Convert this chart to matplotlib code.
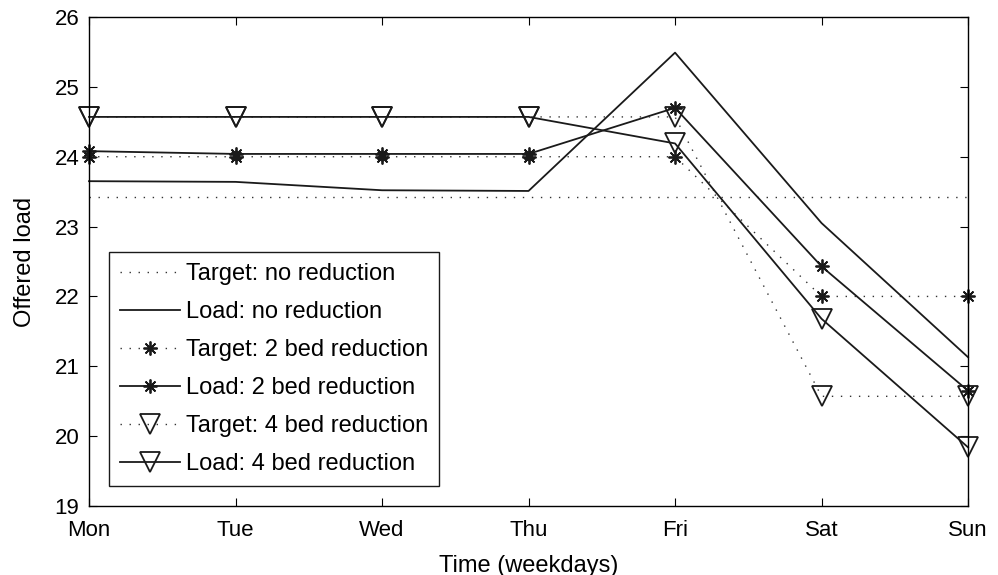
import matplotlib
matplotlib.use("Agg")
import matplotlib.pyplot as plt

days = ["Mon", "Tue", "Wed", "Thu", "Fri", "Sat", "Sun"]
target_none = [23.43, 23.43, 23.43, 23.43, 23.43, 23.43, 23.43]
load_none = [23.65, 23.64, 23.52, 23.51, 25.49, 23.05, 21.13]
target_2 = [24.0, 24.0, 24.0, 24.0, 24.0, 22.0, 22.0]
load_2 = [24.08, 24.04, 24.04, 24.04, 24.70, 22.43, 20.65]
target_4 = [24.57, 24.57, 24.57, 24.57, 24.57, 20.57, 20.57]
load_4 = [24.57, 24.57, 24.57, 24.57, 24.19, 21.68, 19.84]
yticks = [19, 20, 21, 22, 23, 24, 25, 26]

plt.rcParams['font.family'] = ['Liberation Sans', 'DejaVu Sans']
fig = plt.figure(figsize=(9.98, 5.75), dpi=100)
ax = fig.add_axes([0.0892, 0.12, 0.8808, 0.8504])

x = list(range(len(days)))
dot = (0, (1, 5.5))
star = (8, 2, 0)
common = dict(clip_on=False)
ax.plot(x, target_none, color='#333333', ls=dot, lw=1.0, label='Target: no reduction', **common)
ax.plot(x, load_none, color='#1a1a1a', ls='-', lw=1.3, label='Load: no reduction', **common)
ax.plot(x, target_2, color='#333333', ls=dot, lw=1.0, marker=star, ms=10, mew=1.3,
        mec='#1a1a1a', label='Target: 2 bed reduction', **common)
ax.plot(x, load_2, color='#1a1a1a', ls='-', lw=1.3, marker=star, ms=10, mew=1.3,
        label='Load: 2 bed reduction', **common)
ax.plot(x, target_4, color='#333333', ls=dot, lw=1.0, marker='v', ms=14, mew=1.3,
        mfc='none', mec='#1a1a1a', label='Target: 4 bed reduction', **common)
ax.plot(x, load_4, color='#1a1a1a', ls='-', lw=1.3, marker='v', ms=14, mew=1.3,
        mfc='none', mec='#1a1a1a', label='Load: 4 bed reduction', **common)

ax.set_xlim(0, 6)
ax.set_ylim(19, 26)
ax.set_xticks(x)
ax.set_xticklabels(days)
ax.set_yticks(yticks)
ax.tick_params(direction='in', top=True, right=True, labelsize=16, length=6,
               width=0.8)
ax.tick_params(axis='x', pad=10)
ax.tick_params(axis='y', pad=7)
for s in ax.spines.values():
    s.set_linewidth(1.0)
ax.set_xlabel('Time (weekdays)', fontsize=17, labelpad=10)
ax.set_ylabel('Offered load', fontsize=17, labelpad=13)

leg = ax.legend(loc='lower left', bbox_to_anchor=(0.0228, 0.041), borderaxespad=0,
                fontsize=17, handlelength=2.55, labelspacing=0.68, fancybox=False,
                framealpha=1, edgecolor='#1a1a1a', handletextpad=0.27,
                borderpad=0.45)
leg.get_frame().set_linewidth(1.0)

fig.savefig('out.png', dpi=100)
